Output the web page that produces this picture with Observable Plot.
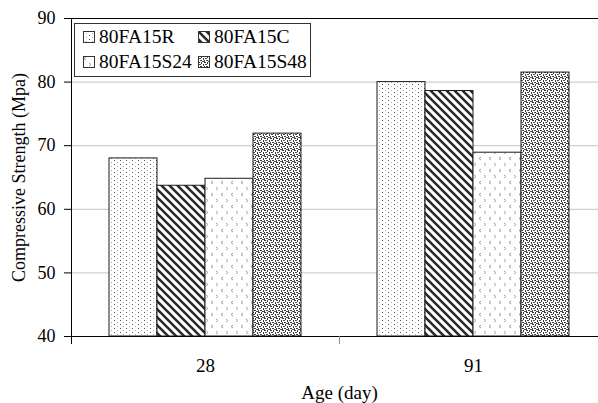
<!DOCTYPE html>
<html>
<head>
<meta charset="utf-8">
<script src="https://cdn.jsdelivr.net/npm/d3@7"></script>
<script src="https://cdn.jsdelivr.net/npm/@observablehq/plot@0.6"></script>
<style>
  html, body { margin: 0; padding: 0; background: white; }
  #wrap { position: relative; width: 598px; height: 403px; overflow: hidden; font-family: 'Liberation Serif', serif; }
  #legend { position: absolute; left: 74px; top: 23px; width: 235px; height: 52px; border: 1px solid #333; background: white; }
  .item { position: absolute; display: flex; align-items: center; font-size: 19.5px; line-height: 1; color: #000; white-space: nowrap; font-family: 'Liberation Serif', serif; }
  .item svg { margin-right: 4px; }
</style>
</head>
<body>
<div id="wrap">
  <svg width="0" height="0" style="position:absolute">
    <defs>
      <pattern id="pat0" patternUnits="userSpaceOnUse" width="6" height="4">
        <rect width="6" height="4" fill="white"/>
        <rect x="0" y="0" width="1" height="1" fill="#555"/>
        <rect x="3" y="2" width="1" height="1" fill="#aaa"/>
      </pattern>
      <pattern id="pat1" patternUnits="userSpaceOnUse" width="8" height="8">
        <rect width="8" height="8" fill="white"/>
        <path d="M-1,-1 L9,9 M-5,3 L5,13 M3,-5 L13,5" stroke="#2a2a2a" stroke-width="2.6"/>
      </pattern>
      <pattern id="pat2" patternUnits="userSpaceOnUse" width="10" height="12">
        <rect width="10" height="12" fill="white"/>
        <path d="M3,1 L1,2.5 L3,4" stroke="#999" stroke-width="1" fill="none"/>
        <path d="M6,7 L8,8.5 L6,10" stroke="#aaa" stroke-width="1" fill="none"/>
      </pattern>
      <pattern id="pat3" patternUnits="userSpaceOnUse" width="6" height="6">
        <rect width="6" height="6" fill="white"/>
        <rect x="0" y="0" width="2" height="1" fill="#3a3a3a"/>
        <rect x="3" y="0" width="1" height="2" fill="#3a3a3a"/>
        <rect x="1" y="2" width="2" height="1" fill="#4a4a4a"/>
        <rect x="5" y="2" width="1" height="2" fill="#3a3a3a"/>
        <rect x="0" y="4" width="1" height="2" fill="#4a4a4a"/>
        <rect x="2" y="4" width="2" height="1" fill="#3a3a3a"/>
        <rect x="4" y="5" width="2" height="1" fill="#4a4a4a"/>
      </pattern>
    </defs>
  </svg>
  <div id="chart"></div>
  <div id="legend"></div>
</div>
<script>
// ---- data ----
const ages = ["28", "91"];
const series = ["80FA15R", "80FA15C", "80FA15S24", "80FA15S48"];
const strength28 = [68.0, 63.7, 64.8, 71.9];
const strength91 = [80.0, 78.6, 68.9, 81.5];
const yTicks = [40, 50, 60, 70, 80, 90];
const gridTicks = [50, 60, 70, 80];
const patterns = ["url(#pat0)", "url(#pat1)", "url(#pat2)", "url(#pat3)"];

const yDomain = [yTicks[0], yTicks[yTicks.length - 1]];
const table = [];
series.forEach((s, i) => {
  table.push({age: ages[0], series: s, value: strength28[i]});
  table.push({age: ages[1], series: s, value: strength91[i]});
});

const H = 403, mTop = 18, mBottom = 67;
const innerH = H - mTop - mBottom;

const chart = Plot.plot({
  width: 598,
  height: H,
  marginLeft: 71,
  marginRight: -9,
  marginTop: mTop,
  marginBottom: mBottom,
  style: {fontFamily: "Liberation Serif", fontSize: "18px", color: "#000", background: "white", overflow: "visible"},
  fx: {domain: ages, padding: 0},
  x: {domain: series, paddingInner: 0, paddingOuter: 0.75, axis: null},
  y: {domain: yDomain},
  color: {domain: series, range: patterns},
  marks: [
    Plot.ruleY(gridTicks, {stroke: "#c4c4c4", strokeWidth: 1}),
    Plot.ruleY([yDomain[1]], {stroke: "#000", strokeWidth: 1}),
    Plot.barY(table, {fx: "age", x: "series", y1: yDomain[0], y2: "value", fill: "series", stroke: "#1a1a1a", strokeWidth: 1}),
    Plot.frame({anchor: "bottom", stroke: "#000"}),
    Plot.frame({anchor: "left", fx: [ages[0]], stroke: "#000", insetBottom: -7}),
    Plot.frame({anchor: "left", fx: [ages[1]], stroke: "#888", insetTop: innerH, insetBottom: -7}),
    Plot.axisY({ticks: yTicks, tickSize: 7, tickPadding: 9, fontSize: 18,
      label: "Compressive Strength (Mpa)", labelAnchor: "center", labelOffset: 59, labelArrow: "none"}),
    Plot.axisFx({anchor: "bottom", tickSize: 0, tickPadding: 22, fontSize: 19,
      label: "Age (day)", labelAnchor: "center", labelOffset: 62, labelArrow: "none"})
  ]
});
document.getElementById("chart").appendChild(chart);
d3.select(chart).selectAll("text").style("font-family", "'Liberation Serif', serif");

// legend
const legendBox = document.getElementById("legend");
const pos = [[8, 13], [123, 13], [8, 37.5], [123, 37.5]];
series.forEach((s, i) => {
  const d = document.createElement("div");
  d.className = "item";
  d.style.left = pos[i][0] + "px";
  d.style.top = (pos[i][1] - 9) + "px";
  d.style.height = "18px";
  d.innerHTML = `<svg width="12" height="12"><rect x="0.5" y="0.5" width="11" height="11" fill="${patterns[i]}" stroke="#333"/></svg><span>${s}</span>`;
  legendBox.appendChild(d);
});
</script>
</body>
</html>
